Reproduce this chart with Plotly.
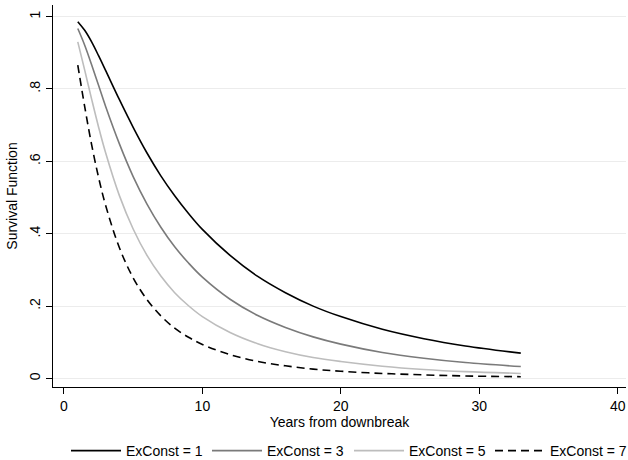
import plotly.graph_objects as go

# Years from downbreak (x) and survival function values
years = [1, 1.5, 2, 2.5, 3, 4, 5, 6, 7, 8, 9, 10, 12, 14, 16, 18, 20, 23, 26, 29, 33]

surv_exconst_1 = [0.986, 0.962, 0.930, 0.892, 0.852, 0.771, 0.694, 0.623, 0.560, 0.505,
                  0.456, 0.412, 0.340, 0.282, 0.237, 0.200, 0.171, 0.136, 0.110, 0.090, 0.070]
surv_exconst_3 = [0.967, 0.921, 0.867, 0.810, 0.753, 0.649, 0.558, 0.482, 0.418, 0.364,
                  0.319, 0.280, 0.219, 0.174, 0.141, 0.115, 0.095, 0.072, 0.056, 0.044, 0.033]
surv_exconst_5 = [0.930, 0.852, 0.772, 0.695, 0.625, 0.506, 0.413, 0.340, 0.283, 0.237,
                  0.201, 0.171, 0.127, 0.096, 0.074, 0.058, 0.047, 0.034, 0.025, 0.019, 0.014]
surv_exconst_7 = [0.866, 0.751, 0.646, 0.556, 0.480, 0.362, 0.278, 0.218, 0.173, 0.139,
                  0.114, 0.094, 0.066, 0.047, 0.035, 0.026, 0.020, 0.014, 0.010, 0.007, 0.005]

series_names = ["ExConst = 1", "ExConst = 3", "ExConst = 5", "ExConst = 7"]
x_ticks = [0, 10, 20, 30, 40]
y_ticks = [0, 0.2, 0.4, 0.6, 0.8, 1]
y_tick_labels = ["0", ".2", ".4", ".6", ".8", "1"]

FONT = "Liberation Sans, Arial, Helvetica, sans-serif"
FS = 14

styles = [
    dict(color="#000000", width=1.6, dash="solid"),
    dict(color="#7a7a7a", width=1.6, dash="solid"),
    dict(color="#bdbdbd", width=1.6, dash="solid"),
    dict(color="#000000", width=1.6, dash="8px,5px"),
]
legend_ids = ["legend", "legend2", "legend3", "legend4"]
legend_x_px = [66, 207, 349, 490]

fig = go.Figure()
for name, vals, st, lid in zip(series_names,
                               [surv_exconst_1, surv_exconst_3, surv_exconst_5, surv_exconst_7],
                               styles, legend_ids):
    fig.add_trace(go.Scatter(x=years, y=vals, mode="lines", name=name, legend=lid,
                             line=dict(color=st["color"], width=st["width"], dash=st["dash"],
                                       shape="spline", smoothing=1.0)))

legend_common = dict(orientation="h", xref="container", yref="container",
                     y=(460 - 451) / 460, xanchor="left", yanchor="middle", itemwidth=50,
                     font=dict(family=FONT, size=FS, color="black"),
                     bgcolor="rgba(0,0,0,0)")
legends = {}
for lid, xp in zip(legend_ids, legend_x_px):
    legends[lid] = dict(legend_common, x=xp / 628)

fig.update_layout(
    width=628, height=460,
    margin=dict(l=53, r=2, t=5, b=73),
    paper_bgcolor="white", plot_bgcolor="white",
    font=dict(family=FONT, size=FS, color="black"),
    showlegend=True,
    xaxis=dict(range=[-0.79, 40.6], tickvals=x_ticks, ticks="outside", ticklen=6,
               tickcolor="black", showline=True, linecolor="black", linewidth=1,
               showgrid=False, zeroline=False, automargin=False,
               title=dict(text="Years from downbreak", standoff=1,
                          font=dict(family=FONT, size=FS))),
    yaxis=dict(range=[-0.0235, 1.032], tickvals=y_ticks, ticktext=y_tick_labels,
               tickangle=-90, ticks="outside", ticklen=6, tickcolor="black",
               showline=True, linecolor="black", linewidth=1, automargin=False,
               showgrid=True, gridcolor="#ececec", gridwidth=1, zeroline=False,
               title=dict(text="Survival Function", standoff=6,
                          font=dict(family=FONT, size=FS))),
    **legends,
)

fig.write_html("out.html", config={"displayModeBar": False},
               post_script="document.body.style.margin='0';document.body.style.padding='0';")
